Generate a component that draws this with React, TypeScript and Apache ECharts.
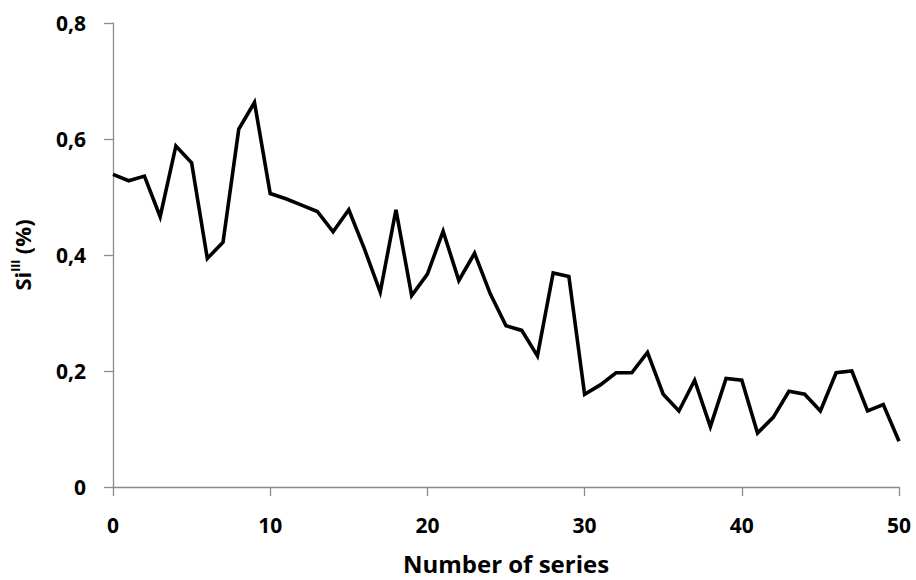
import React, { useEffect, useRef } from "react";
import * as echarts from "echarts";

const seriesIndex: number[] = [
  0, 1, 2, 3, 4, 5, 6, 7, 8, 9, 10, 11, 12, 13, 14, 15, 16, 17, 18, 19, 20,
  21, 22, 23, 24, 25, 26, 27, 28, 29, 30, 31, 32, 33, 34, 35, 36, 37, 38, 39,
  40, 41, 42, 43, 44, 45, 46, 47, 48, 49, 50,
];
const siValues: number[] = [
  0.539, 0.528, 0.536, 0.466, 0.588, 0.559, 0.394, 0.422, 0.617, 0.663, 0.506,
  0.497, 0.486, 0.475, 0.44, 0.478, 0.41, 0.336, 0.478, 0.33, 0.367, 0.441,
  0.356, 0.403, 0.333, 0.278, 0.27, 0.226, 0.369, 0.363, 0.16, 0.176, 0.197,
  0.197, 0.232, 0.16, 0.131, 0.184, 0.104, 0.187, 0.184, 0.093, 0.12, 0.165,
  0.16, 0.131, 0.197, 0.2, 0.131, 0.142, 0.079,
];
const xTitle = "Number of series";

export default function App() {
  const ref = useRef<HTMLDivElement>(null);
  useEffect(() => {
    if (!ref.current) return;
    const chart = echarts.init(ref.current, null, { renderer: "svg" });
    const font = "'Open Sans', sans-serif";
    const axisGray = "#8c8c8c";
    chart.setOption({
      animation: false,
      backgroundColor: "#ffffff",
      grid: { left: 113, right: 17, top: 23, bottom: 91 },
      xAxis: {
        type: "value",
        min: 0,
        max: 50,
        interval: 10,
        name: xTitle,
        nameLocation: "middle",
        nameGap: 64,
        nameTextStyle: { fontFamily: font, fontWeight: "bold", fontSize: 24, color: "#000" },
        axisLine: { show: true, lineStyle: { color: axisGray, width: 1.3 } },
        axisTick: { show: true, length: 9, lineStyle: { color: axisGray, width: 1.3 } },
        axisLabel: { margin: 27, fontFamily: font, fontWeight: "bold", fontSize: 21, color: "#000" },
        splitLine: { show: false },
      },
      yAxis: {
        type: "value",
        min: 0,
        max: 0.8,
        interval: 0.2,
        name: "{a|Si}{b|III}{a| (%)}",
        nameLocation: "middle",
        nameGap: 78,
        nameRotate: 90,
        nameTextStyle: {
          rich: {
            a: { fontFamily: font, fontWeight: "bold", fontSize: 22, lineHeight: 26, color: "#000" },
            b: { fontFamily: font, fontWeight: "bold", fontSize: 12, verticalAlign: "top", lineHeight: 26, color: "#000" },
          },
        },
        axisLine: { show: true, lineStyle: { color: axisGray, width: 1.3 } },
        axisTick: { show: true, length: 9, lineStyle: { color: axisGray, width: 1.3 } },
        axisLabel: {
          margin: 27,
          fontFamily: font,
          fontWeight: "bold",
          fontSize: 21,
          color: "#000",
          formatter: (v: number) => (v === 0 ? "0" : v.toFixed(1).replace(".", ",")),
        },
        splitLine: { show: false },
      },
      series: [
        {
          type: "line",
          data: seriesIndex.map((x, i) => [x, siValues[i]]),
          showSymbol: false,
          lineStyle: { color: "#000", width: 3.6, join: "miter" },
          itemStyle: { color: "#000" },
        },
      ],
    });
    return () => chart.dispose();
  }, []);
  return (
    <div
      ref={ref}
      style={{ position: "fixed", left: 0, top: 0, width: 916, height: 580 }}
    />
  );
}
